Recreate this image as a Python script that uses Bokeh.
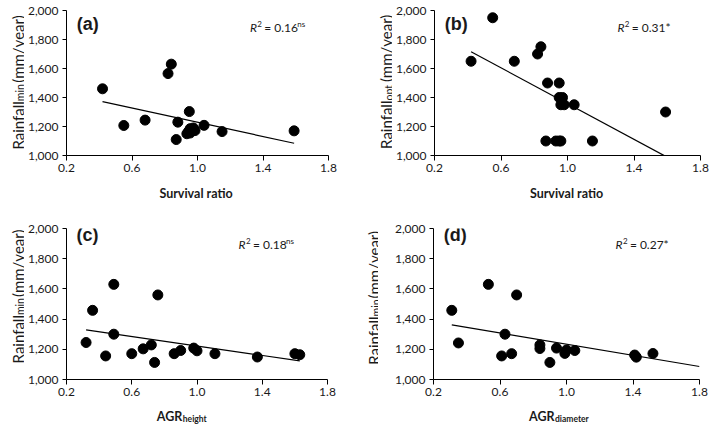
import numpy as np
from bokeh.plotting import figure
from bokeh.models import Range1d, FixedTicker
from bokeh.core.properties import value
from bokeh.layouts import column, row
from bokeh.embed import file_html
from bokeh.resources import INLINE

# ---------------- data ----------------
# (a) survival ratio vs minimum rainfall
surv_a = [0.42, 0.55, 0.68, 0.82, 0.84, 0.87, 0.88, 0.95, 0.935, 0.945, 0.955, 0.955, 0.965, 0.975, 0.985, 1.04, 1.15, 1.59]
rmin_a = [1460, 1207, 1244, 1565, 1630, 1110, 1230, 1303, 1150, 1165, 1155, 1185, 1175, 1190, 1172, 1208, 1165, 1170]
# (b) survival ratio vs optimum rainfall
surv_b = [0.42, 0.55, 0.68, 0.82, 0.84, 0.88, 0.95, 0.87, 0.93, 0.95, 0.96, 0.95, 0.97, 0.96, 0.98, 1.04, 1.15, 1.59]
ropt_b = [1650, 1950, 1650, 1700, 1750, 1500, 1500, 1100, 1100, 1100, 1100, 1400, 1400, 1350, 1350, 1350, 1100, 1300]
# (c) AGR height vs minimum rainfall
agrh_c = [0.32, 0.36, 0.44, 0.49, 0.49, 0.60, 0.67, 0.72, 0.74, 0.76, 0.86, 0.90, 0.98, 1.00, 1.11, 1.37, 1.60, 1.63]
rmin_c = [1245, 1458, 1156, 1630, 1300, 1171, 1203, 1229, 1113, 1560, 1171, 1192, 1208, 1190, 1171, 1149, 1171, 1164]
# (d) AGR diameter vs minimum rainfall
agrd_d = [0.31, 0.35, 0.53, 0.61, 0.63, 0.67, 0.70, 0.84, 0.84, 0.90, 0.94, 0.99, 1.00, 1.05, 1.41, 1.42, 1.52]
rmin_d = [1458, 1242, 1630, 1156, 1300, 1171, 1560, 1205, 1229, 1113, 1208, 1173, 1195, 1192, 1162, 1148, 1172]

# fitted trend lines (slope, intercept) as drawn in the figure
fit_a = (-245, 1474)
fit_b = (-617, 1975)
fit_c = (-157, 1379)
fit_d = (-185, 1419)

panel_letters = ["(a)", "(b)", "(c)", "(d)"]
r2_values = ["0.16", "0.31*", "0.18", "0.27*"]
r2_marks = ["ns", "", "ns", ""]
y_label_subs = ["min", "opt", "min", "min"]
x_label_mains = ["Survival ratio", "Survival ratio", "AGR", "AGR"]
x_label_subs = ["", "", "height", "diameter"]

x_ticks = [0.2, 0.6, 1.0, 1.4, 1.8]
x_tick_labels = ["0.2", "0.6", "1.0", "1.4", "1.8"]
y_ticks = [1000, 1200, 1400, 1600, 1800, 2000]
y_tick_labels = ["1,000", "1,200", "1,400", "1,600", "1,800", "2,000"]

FONT = "Lato"
INK = "#1a1a1a"


def txt(f, x, y, s, size, align="left", baseline="alphabetic", angle=0.0,
        style="normal", font=FONT):
    f.text(x=[x], y=[y], text=[s], angle=angle,
           text_font=value(font), text_font_size=value(f"{size}px"),
           text_font_style=value(style), text_color=INK,
           text_align=value(align), text_baseline=value(baseline))


def blank(width, height, xr, yr):
    f = figure(width=width, height=height, x_range=xr, y_range=yr,
               output_backend="svg", toolbar_location=None,
               x_axis_location=None, y_axis_location=None,
               min_border_left=0, min_border_right=0,
               min_border_top=0, min_border_bottom=0)
    f.outline_line_color = None
    f.grid.visible = False
    f.background_fill_color = "white"
    f.border_fill_color = "white"
    return f


def panel(idx, x, y, fit, line_to_end, cell_w, plot_h, ylab_w, mbl, mbr, mbt, mbb,
          letter_y, r2_x, r2_y, ylab_base, ysplit, ylab_nudge, xsplit, xlab_base):
    xr = Range1d(0.2, 1.8)
    yr = Range1d(1000, 2000)
    pw = cell_w - ylab_w
    frame_w = pw - mbl - mbr
    frame_h = plot_h - mbt - mbb
    dxp = (xr.end - xr.start) / frame_w      # data units per pixel (x)
    dyp = (yr.end - yr.start) / frame_h      # data units per pixel (y)

    p = figure(width=pw, height=plot_h, output_backend="svg", toolbar_location=None,
               x_range=xr, y_range=yr,
               min_border_left=mbl, min_border_right=mbr,
               min_border_top=mbt, min_border_bottom=mbb)
    p.outline_line_color = None
    p.grid.visible = False
    p.background_fill_color = "white"
    p.border_fill_color = "white"

    for ax in (p.xaxis[0], p.yaxis[0]):
        ax.axis_line_color = "black"
        ax.axis_line_width = 1
        ax.major_tick_line_color = "black"
        ax.major_tick_in = 0
        ax.minor_tick_line_color = None
        ax.major_label_text_font = FONT
        ax.major_label_text_font_size = "12px"
        ax.major_label_text_color = INK
    p.xaxis[0].ticker = FixedTicker(ticks=x_ticks)
    p.xaxis[0].major_label_overrides = {t: l for t, l in zip(x_ticks, x_tick_labels)}
    p.xaxis[0].major_tick_out = 5
    p.xaxis[0].major_label_standoff = 3
    p.yaxis[0].ticker = FixedTicker(ticks=y_ticks)
    p.yaxis[0].major_label_overrides = {t: l for t, l in zip(y_ticks, y_tick_labels)}
    p.yaxis[0].major_tick_out = 4
    p.yaxis[0].major_label_standoff = 4

    # trend line
    slope, icpt = fit
    x0 = min(x)
    x1 = xr.end if line_to_end else max(x)
    xs = np.array([x0, x1])
    p.line(xs, icpt + slope * xs, line_color="black", line_width=1.2)

    # points
    p.scatter(x, y, size=10, marker="circle", fill_color="black", line_color="black")

    # panel letter
    txt(p, 0.262, letter_y, panel_letters[idx], 18, style="bold", font="Liberation Sans")

    # R^2 text
    txt(p, r2_x, r2_y, "R", 12, style="italic")
    txt(p, r2_x + 7.5 * dxp, r2_y + 4 * dyp, "2", 8)
    txt(p, r2_x + 14.5 * dxp, r2_y, "= " + r2_values[idx], 12)
    if r2_marks[idx]:
        txt(p, r2_x + 48 * dxp, r2_y + 4 * dyp, r2_marks[idx], 8)

    # y-axis title in its own strip (pixel units, measured from the strip's top)
    yl = blank(ylab_w, plot_h, Range1d(0, ylab_w), Range1d(plot_h, 0))
    split_px = mbt + (yr.end - ysplit) / dyp + ylab_nudge
    ang = np.pi / 2
    txt(yl, ylab_base, split_px, "Rainfall", 15, align="right", angle=ang)
    txt(yl, ylab_base + 2.5, split_px, y_label_subs[idx], 10.5, align="left", angle=ang)
    txt(yl, ylab_base, split_px - 23, "(mm/year)", 15, align="left", angle=ang)

    # x-axis title in its own strip; its x scale continues the plot's over the borders
    xl_h = 212 - plot_h
    left_px = ylab_w + mbl
    xl_range = Range1d(xr.start - left_px * dxp, xr.end + mbr * dxp)
    xl = blank(cell_w, xl_h, xl_range, Range1d(0, xl_h))
    if x_label_subs[idx]:
        txt(xl, xsplit, xlab_base, x_label_mains[idx], 12.5, align="right", style="bold")
        txt(xl, xsplit + 0.5 * dxp, xlab_base - 2.5, x_label_subs[idx], 8.5, style="bold")
    else:
        txt(xl, xsplit, xlab_base, x_label_mains[idx], 12.5, align="center", style="bold")

    return column(row(yl, p), xl)


ca = panel(0, surv_a, rmin_a, fit_a, False, 354, 180, 24, 39, 26, 10, 25,
           1910, 1.32, 1880, 17, 1361, 10, 1.0, 19)
cb = panel(1, surv_b, ropt_b, fit_b, False, 355, 180, 38, 40, 9, 10, 25,
           1905, 1.30, 1880, 31.5, 1367, 10, 1.0, 19)
cc = panel(2, agrh_c, rmin_c, fit_c, False, 354, 192, 24, 39, 27, 16, 25,
           1960, 1.255, 1892, 17.3, 1377, 0, 0.92, 8)
cd = panel(3, agrd_d, rmin_d, fit_d, True, 355, 192, 24, 55, 10, 16, 25,
           1960, 1.294, 1892, 19, 1365, 0, 0.928, 8)

layout = column(row(ca, cb), row(cc, cd))

open("out.html", "w").write(file_html(layout, INLINE))
